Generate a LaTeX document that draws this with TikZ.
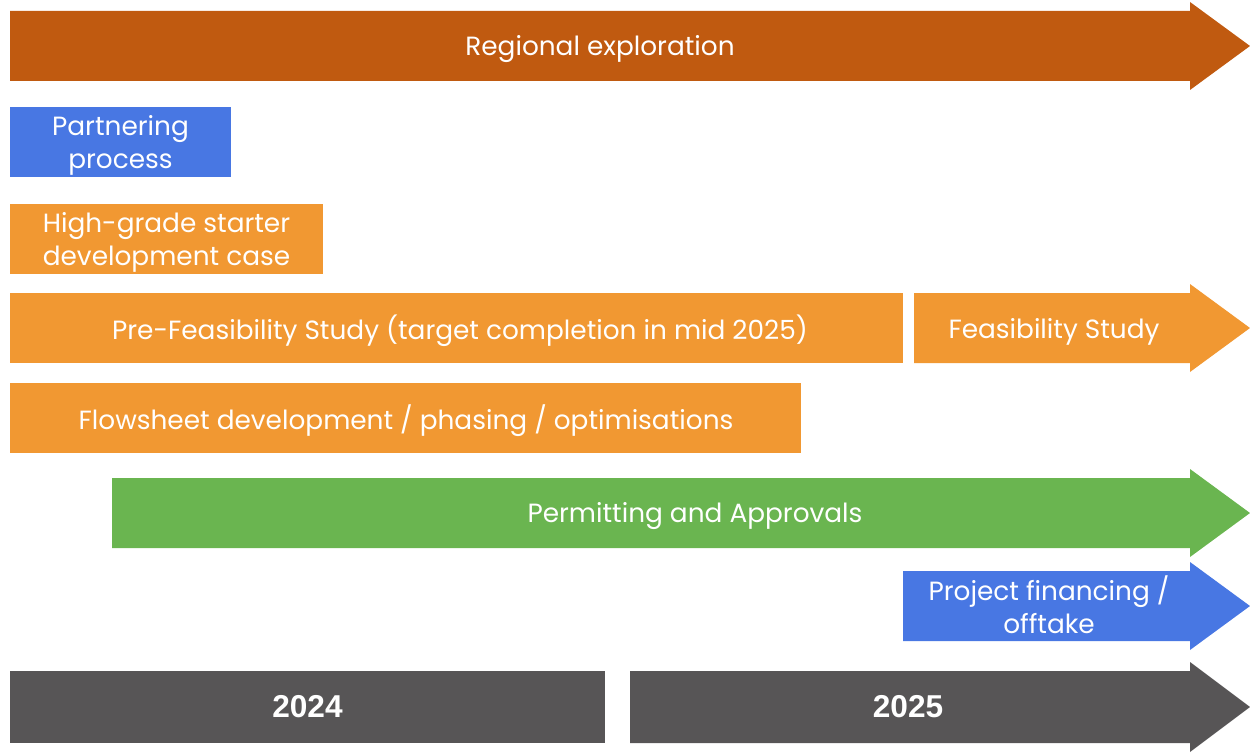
\documentclass[tikz,border=0pt]{standalone}
\usepackage{fontspec}
\setmainfont{Poppins}
\newfontfamily\yearfont{Liberation Sans}
\definecolor{rust}{HTML}{C05A10}
\definecolor{partblue}{HTML}{4877E3}
\definecolor{studyorange}{HTML}{F19832}
\definecolor{permitgreen}{HTML}{6AB550}
\definecolor{yeargray}{HTML}{575556}

\tikzset{
  label/.style={text=white, align=center, inner sep=0pt, yshift=-0.06cm,
    font=\fontsize{15}{18.8}\selectfont},
  yearlabel/.style={text=white, inner sep=0pt,
    font=\yearfont\bfseries\fontsize{18}{20}\selectfont},
}

% arrow bar: colour, left x, top y, bottom y (head from x=1190 to 1250)
\newcommand{\arrowbar}[4]{%
  \fill[#1] (#2,#3) -- (1190,#3) -- (1190,#3-9) -- (1250,{(#3+#4)/2})
    -- (1190,#4+9) -- (1190,#4) -- (#2,#4) -- cycle;
}

\begin{document}
\begin{tikzpicture}[x=0.02cm, y=-0.02cm]
\useasboundingbox (0,0) rectangle (1250,753);

% Regional exploration
\arrowbar{rust}{10}{11}{81}
\node (regional) [label] at (600,46) {Regional exploration};

% Partnering process
\fill[partblue] (10,107) rectangle (231,177);
\node (partnering) [label] at (120.5,142) {Partnering\\process};

% High-grade starter case
\fill[studyorange] (10,204) rectangle (323,274);
\node (starter) [label] at (166.5,239) {High-grade starter\\development case};

% Pre-Feasibility Study
\fill[studyorange] (10,293) rectangle (903,363);
\node (pfs) [label] at (460,328) {Pre-Feasibility Study (target completion in mid 2025)};

% Feasibility Study
\arrowbar{studyorange}{914}{293}{363}
\node (fs) [label] at (1054,329) {Feasibility Study};

% Flowsheet development
\fill[studyorange] (10,383) rectangle (801,453);
\node (flowsheet) [label] at (406,418) {Flowsheet development / phasing / optimisations};

% Permitting and Approvals
\arrowbar{permitgreen}{112}{478}{548}
\node (permitting) [label] at (695,513) {Permitting and Approvals};

% Project financing
\arrowbar{partblue}{903}{571}{641}
\node (financing) [label] at (1049,602) {Project financing /\\offtake};

% Years
\fill[yeargray] (10,671) rectangle (605,743);
\node (y2024) [yearlabel] at (307.5,707) {2024};
\arrowbar{yeargray}{630}{671}{743}
\node (y2025) [yearlabel] at (908,707) {2025};

\end{tikzpicture}
\end{document}
